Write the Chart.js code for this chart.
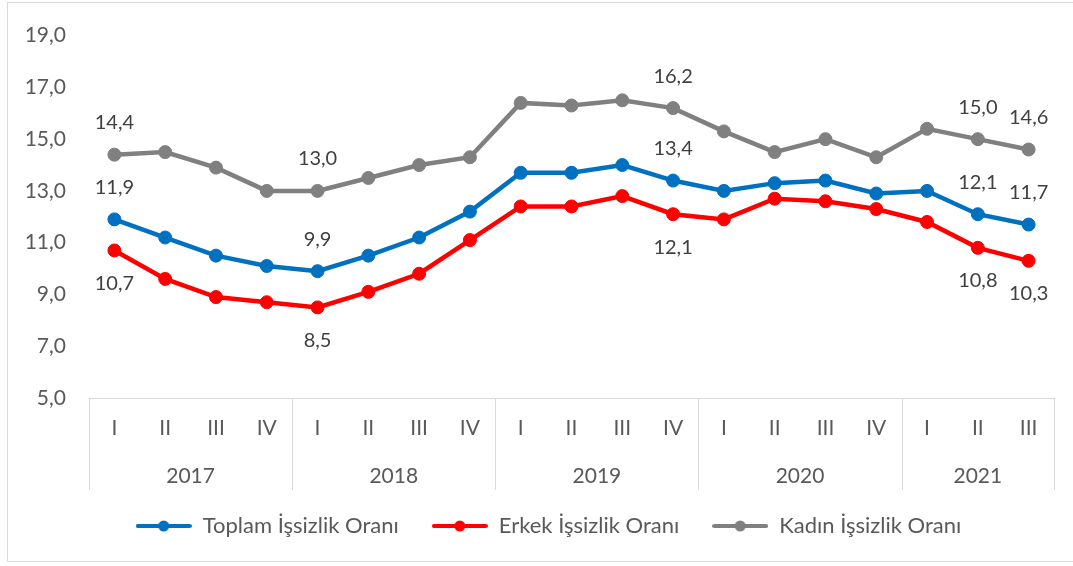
<!DOCTYPE html>
<html>
<head>
<meta charset="utf-8">
<script src="https://cdn.jsdelivr.net/npm/chart.js@4.4.1/dist/chart.umd.min.js"></script>
<style>
    html, body { margin: 0; padding: 0; background: #ffffff; overflow: hidden; }
    #wrap { position: relative; width: 1073px; height: 566px; }
    #frame { position: absolute; left: 7px; top: 2px; width: 1080px; height: 560px; border: 1px solid #d9d9d9; box-sizing: border-box; }
    #chart1 { position: absolute; left: 0; top: 0; }
</style>
</head>
<body>
<div id="wrap">
    <div id="frame"></div>
    <canvas id="chart1" width="1073" height="566"></canvas>
</div>
<script>
// quarters and years
const quarters = ["I", "II", "III", "IV", "I", "II", "III", "IV", "I", "II", "III", "IV", "I", "II", "III", "IV", "I", "II", "III"];
const years = ["2017", "2018", "2019", "2020", "2021"];
const quartersPerYear = [4, 4, 4, 4, 3];

// rates (%)
const toplamRate = [11.9, 11.2, 10.5, 10.1, 9.9, 10.5, 11.2, 12.2, 13.7, 13.7, 14.0, 13.4, 13.0, 13.3, 13.4, 12.9, 13.0, 12.1, 11.7];
const erkekRate = [10.7, 9.6, 8.9, 8.7, 8.5, 9.1, 9.8, 11.1, 12.4, 12.4, 12.8, 12.1, 11.9, 12.7, 12.6, 12.3, 11.8, 10.8, 10.3];
const kadinRate = [14.4, 14.5, 13.9, 13.0, 13.0, 13.5, 14.0, 14.3, 16.4, 16.3, 16.5, 16.2, 15.3, 14.5, 15.0, 14.3, 15.4, 15.0, 14.6];

// which points carry a value label
const labelledPoints = [0, 4, 11, 17, 18];

const FONT = "Lato, 'Open Sans', sans-serif";

function fmt(v) {
    return v.toFixed(1).replace(".", ",");
}

// legend marker: short line with a dot in the middle
function legendMarker(color) {
    const c = document.createElement("canvas");
    c.width = 56;
    c.height = 14;
    const g = c.getContext("2d");
    g.strokeStyle = color;
    g.lineWidth = 4;
    g.lineCap = "round";
    g.beginPath();
    g.moveTo(2, 7);
    g.lineTo(54, 7);
    g.stroke();
    g.fillStyle = color;
    g.beginPath();
    g.arc(28, 7, 5.5, 0, Math.PI * 2);
    g.fill();
    return c;
}

// value labels above / below selected points
const valueLabels = {
    id: "valueLabels",
    afterDatasetsDraw(chart) {
        const ctx = chart.ctx;
        ctx.save();
        ctx.font = "20px " + FONT;
        ctx.fillStyle = "#404040";
        ctx.textAlign = "center";
        ctx.textBaseline = "middle";
        chart.data.datasets.forEach((ds, di) => {
            const meta = chart.getDatasetMeta(di);
            labelledPoints.forEach(i => {
                const p = meta.data[i];
                const dy = ds.labelPos === "below" ? 33 : -32;
                ctx.fillText(fmt(ds.data[i]), p.x, p.y + dy);
            });
        });
        ctx.restore();
    }
};

// year row and separators under the quarter labels
const yearAxis = {
    id: "yearAxis",
    afterLayout(chart) {
        // the legend sits a bit right of the canvas centre, under the plot area
        if (chart.legend) {
            chart.legend.left = chart.chartArea.left - 46;
        }
    },
    afterDraw(chart) {
        const ctx = chart.ctx;
        const x = chart.scales.x;
        const area = chart.chartArea;
        const bottom = area.bottom + 92;
        ctx.save();
        ctx.strokeStyle = "#d9d9d9";
        ctx.lineWidth = 1;
        ctx.font = "21px " + FONT;
        ctx.fillStyle = "#595959";
        ctx.textAlign = "center";
        ctx.textBaseline = "middle";
        let start = 0;
        const edges = [area.left];
        quartersPerYear.forEach((n, yi) => {
            const end = start + n;
            const right = end >= quarters.length ? area.right
                : (x.getPixelForValue(end - 1) + x.getPixelForValue(end)) / 2;
            edges.push(right);
            const left = edges[yi];
            ctx.fillText(years[yi], (left + right) / 2, area.bottom + 78);
            start = end;
        });
        edges.forEach(ex => {
            const px = Math.round(ex) + 0.5;
            ctx.beginPath();
            ctx.moveTo(px, area.bottom);
            ctx.lineTo(px, bottom);
            ctx.stroke();
        });
        ctx.restore();
    }
};

function makeSet(label, data, color, labelPos) {
    return {
        label: label,
        data: data,
        labelPos: labelPos,
        borderColor: color,
        backgroundColor: color,
        borderWidth: 4.5,
        pointRadius: 6.5,
        pointBorderWidth: 1,
        pointBackgroundColor: color,
        pointBorderColor: color,
        tension: 0,
        fill: false
    };
}

const ctx1 = document.getElementById("chart1").getContext("2d");
new Chart(ctx1, {
    type: "line",
    data: {
        labels: quarters,
        datasets: [
            makeSet("Toplam İşsizlik Oranı", toplamRate, "#0070C0", "above"),
            makeSet("Erkek İşsizlik Oranı", erkekRate, "#FF0000", "below"),
            makeSet("Kadın İşsizlik Oranı", kadinRate, "#808080", "above")
        ]
    },
    options: {
        responsive: false,
        animation: false,
        layout: {
            padding: { top: 26, right: 19, bottom: 19, left: 0 }
        },
        plugins: {
            tooltip: { enabled: false },
            legend: {
                position: "bottom",
                labels: {
                    usePointStyle: true,
                    pointStyleWidth: 56,
                    padding: 33,
                    color: "#595959",
                    font: { family: FONT, size: 22 },
                    generateLabels(chart) {
                        return chart.data.datasets.map((ds, i) => ({
                            text: ds.label,
                            pointStyle: legendMarker(ds.borderColor),
                            fillStyle: ds.borderColor,
                            strokeStyle: ds.borderColor,
                            lineWidth: 0,
                            fontColor: "#595959",
                            hidden: false,
                            datasetIndex: i
                        }));
                    }
                }
            }
        },
        scales: {
            x: {
                offset: true,
                grid: { display: false, drawTicks: false },
                border: { display: true, color: "#d9d9d9", width: 1 },
                ticks: {
                    autoSkip: false,
                    maxRotation: 0,
                    padding: 18,
                    color: "#595959",
                    font: { family: FONT, size: 21 }
                },
                afterFit(scale) { scale.height = 84; }
            },
            y: {
                min: 5,
                max: 19,
                grid: { display: false, drawTicks: false },
                border: { display: false },
                ticks: {
                    stepSize: 2,
                    padding: 23,
                    color: "#595959",
                    font: { family: FONT, size: 21 },
                    callback: v => fmt(v)
                },
                afterFit(scale) { scale.width = 89; }
            }
        }
    },
    plugins: [valueLabels, yearAxis]
});
</script>
</body>
</html>
